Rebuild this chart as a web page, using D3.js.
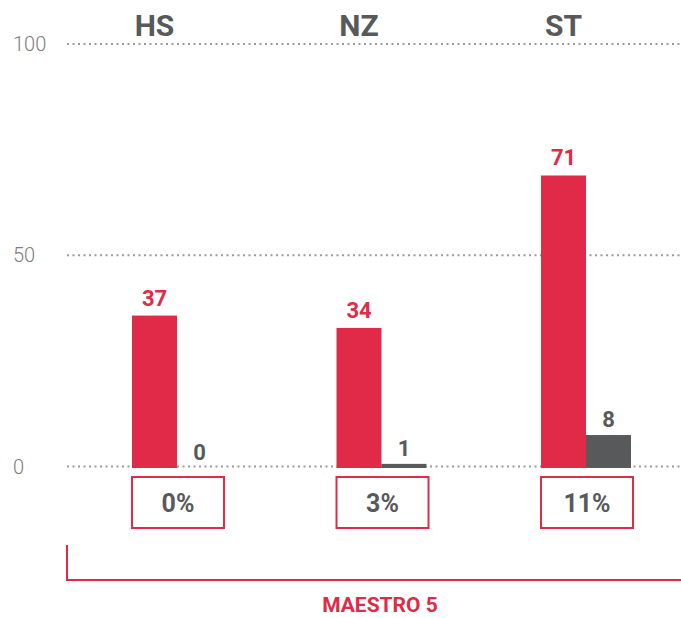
<!DOCTYPE html>
<html>
<head>
<meta charset="utf-8">
<script src="https://cdn.jsdelivr.net/npm/d3@7"></script>
<style>
  html, body { margin: 0; padding: 0; background: #fff; }
  svg { display: block; font-family: Roboto, "Noto Sans", sans-serif; }
</style>
</head>
<body>
<div id="chart"></div>
<script>
// data
const categories = ["HS", "NZ", "ST"];
const redValues = [37, 34, 71];
const grayValues = [0, 1, 8];
const shareLabels = ["0%", "3%", "11%"];
const yTicks = [0, 50, 100];
const groupLabel = "MAESTRO 5";

const width = 681, height = 618;
const red = "#e02a48", gray = "#58595b";

const svg = d3.select("#chart").append("svg")
    .attr("width", width)
    .attr("height", height);

// scales
const x = d3.scalePoint().domain(categories).range([132, 541]);
const y = d3.scaleLinear().domain([0, 100]).range([466.5, 44]);
// bars in the original sit a bit lower than the gridlines
const yBar = d3.scaleLinear().domain([0, 100]).range([468, 56]);
const barW = 45;

// gridlines + tick labels
svg.selectAll("line.grid")
    .data(yTicks)
    .enter().append("line")
    .attr("class", "grid")
    .attr("x1", 67).attr("x2", width)
    .attr("y1", d => y(d)).attr("y2", d => y(d))
    .attr("stroke", "#9a9a9a")
    .attr("stroke-width", 2)
    .attr("stroke-dasharray", "2,3.5");

svg.selectAll("text.tick")
    .data(yTicks)
    .enter().append("text")
    .attr("class", "tick")
    .attr("x", 13)
    .attr("y", d => y(d))
    .attr("dy", "0.36em")
    .attr("font-size", 20)
    .attr("font-weight", 300)
    .attr("fill", "#7d7d7d")
    .text(d => d);

const groups = svg.selectAll("g.cat")
    .data(categories)
    .enter().append("g")
    .attr("class", "cat")
    .attr("transform", d => `translate(${x(d)},0)`);

// category headers
groups.append("text")
    .attr("x", barW / 2)
    .attr("y", 36)
    .attr("text-anchor", "middle")
    .attr("font-size", 30)
    .attr("font-weight", 700)
    .attr("fill", gray)
    .text(d => d);

// red bars
groups.append("rect")
    .attr("x", 0)
    .attr("width", barW)
    .attr("y", (d, i) => yBar(redValues[i]))
    .attr("height", (d, i) => yBar(0) - yBar(redValues[i]))
    .attr("fill", red);

groups.append("text")
    .attr("x", barW / 2)
    .attr("y", (d, i) => yBar(redValues[i]) - 10)
    .attr("text-anchor", "middle")
    .attr("font-size", 22)
    .attr("font-weight", 700)
    .attr("fill", red)
    .text((d, i) => redValues[i]);

// gray bars
groups.append("rect")
    .attr("x", barW)
    .attr("width", barW)
    .attr("y", (d, i) => yBar(grayValues[i]))
    .attr("height", (d, i) => yBar(0) - yBar(grayValues[i]))
    .attr("fill", gray);

groups.append("text")
    .attr("x", barW * 1.5)
    .attr("y", (d, i) => Math.min(yBar(grayValues[i]) - 8, 461))
    .attr("text-anchor", "middle")
    .attr("font-size", 22)
    .attr("font-weight", 700)
    .attr("fill", gray)
    .text((d, i) => grayValues[i]);

// share boxes
groups.append("rect")
    .attr("x", 0)
    .attr("y", 477)
    .attr("width", barW * 2 + 2)
    .attr("height", 51)
    .attr("fill", "none")
    .attr("stroke", red)
    .attr("stroke-width", 2);

groups.append("text")
    .attr("x", barW + 1)
    .attr("y", 512)
    .attr("text-anchor", "middle")
    .attr("font-size", 25)
    .attr("font-weight", 700)
    .attr("fill", gray)
    .text((d, i) => shareLabels[i]);

// bracket at the bottom
svg.append("path")
    .attr("d", `M67,545V580H${width}`)
    .attr("fill", "none")
    .attr("stroke", red)
    .attr("stroke-width", 2);

svg.append("text")
    .attr("x", 380)
    .attr("y", 612)
    .attr("text-anchor", "middle")
    .attr("font-size", 21)
    .attr("font-weight", 700)
    .attr("fill", red)
    .text(groupLabel);
</script>
</body>
</html>
